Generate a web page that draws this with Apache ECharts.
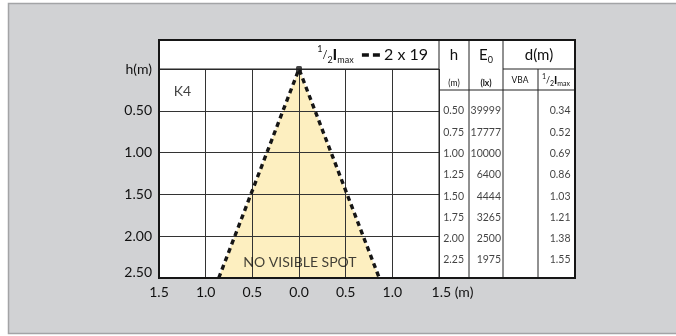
<!DOCTYPE html>
<html>
<head>
<meta charset="utf-8">
<script src="https://cdn.jsdelivr.net/npm/echarts@6/dist/echarts.min.js"></script>
<style>
html,body{margin:0;padding:0;background:#fff;}
#c{width:676px;height:336px;}
</style>
</head>
<body>
<div id="c"></div>
<script>
// ---- data ----
const xTickLabels = ['1.5', '1.0', '0.5', '0.0', '0.5', '1.0', '1.5'];
const xUnit = '(m)';
const yTickLabels = ['h(m)', '0.50', '1.00', '1.50', '2.00', '2.50'];
const coneX = [-0.86, 0, 0.86];
const coneH = [2.5, 0, 2.5];
const tableH = [0.50, 0.75, 1.00, 1.25, 1.50, 1.75, 2.00, 2.25];
const tableE0 = [39999, 17777, 10000, 6400, 4444, 3265, 2500, 1975];
const tableVBA = [];
const tableHalfImax = [0.34, 0.52, 0.69, 0.86, 1.03, 1.21, 1.38, 1.55];
const beamLabel = '2 x 19';
const lampCode = 'K4';
const spotNote = 'NO VISIBLE SPOT';
const annotations = [[-1.25, 0.27, lampCode], [0.01, 2.32, spotNote]];

// ---- chart ----
const FONT = 'Lato, "Open Sans", sans-serif';
const TXT = '#111';
const chart = echarts.init(document.getElementById('c'), null, {renderer: 'canvas'});

const fracRich = (big, small) => ({
  s: {fontSize: small, fontFamily: FONT, color: TXT, verticalAlign: 'top', lineHeight: big + 4},
  f: {fontSize: small + 2, fontFamily: FONT, color: TXT, lineHeight: big + 4},
  b: {fontSize: small, fontFamily: FONT, color: TXT, verticalAlign: 'bottom', lineHeight: big - 2},
  I: {fontSize: big, fontFamily: FONT, fontWeight: 'bold', color: TXT, lineHeight: big + 4},
  t: {fontSize: big, fontFamily: FONT, color: TXT, lineHeight: big + 4},
  d: {width: 7, height: 3.5, backgroundColor: '#111', lineHeight: big + 4},
  g: {width: 4, lineHeight: big + 4}
});

// table column geometry (pixels)
const cols = [
  {left: 439, width: 30, off: 10, data: tableH.map(v => v.toFixed(2))},
  {left: 469, width: 34, off: 15, data: tableE0.map(v => String(v))},
  {left: 503, width: 35, off: 0, data: tableVBA},
  {left: 538, width: 37, off: 14, data: tableHalfImax.map(v => v.toFixed(2))}
];

const grids = [{left: 159, top: 69, width: 280, height: 209, show: true, backgroundColor: '#fff', borderWidth: 0}];
const xAxes = [{
  type: 'value', gridIndex: 0, min: -1.5, max: 1.5, interval: 0.5, z: 5,
  axisLine: {show: true, onZero: false, lineStyle: {color: '#111', width: 2}},
  axisTick: {show: false},
  splitLine: {show: true, lineStyle: {color: '#333', width: 1}},
  axisLabel: {
    margin: 7, fontSize: 14, color: TXT, fontFamily: FONT,
    formatter: v => {
      const i = Math.round((v + 1.5) / 0.5);
      const t = xTickLabels[i];
      return i === xTickLabels.length - 1 ? '{l|' + t + ' ' + xUnit + '}' : t;
    },
    rich: {l: {fontSize: 14, color: TXT, fontFamily: FONT, padding: [0, 0, 0, 27]}}
  }
}];
const yAxes = [{
  type: 'value', gridIndex: 0, inverse: true, min: 0, max: 2.5, interval: 0.5, z: 5,
  axisLine: {show: false}, axisTick: {show: false},
  splitLine: {show: true, lineStyle: {color: '#333', width: 1}},
  axisLabel: {
    margin: 7, fontSize: 14, color: TXT, fontFamily: FONT,
    formatter: v => {
      const i = Math.round(v / 0.5);
      const t = yTickLabels[i];
      return i === yTickLabels.length - 1 ? '{b|' + t + '}' : t;
    },
    rich: {b: {fontSize: 14, color: TXT, fontFamily: FONT, padding: [0, 0, 12, 0]}}
  }
}];

const series = [
  {
    type: 'custom', xAxisIndex: 0, yAxisIndex: 0, z: 1, silent: true,
    data: coneX.map((x, i) => [x, coneH[i]]),
    renderItem: (params, api) => {
      if (params.dataIndex !== 0) return null;
      const pts = coneX.map((x, i) => api.coord([x, coneH[i]]));
      return {type: 'polygon', shape: {points: pts}, style: {fill: '#fdefc0'}};
    }
  },
  {
    type: 'line', xAxisIndex: 0, yAxisIndex: 0, z: 10, symbol: 'none',
    data: coneX.map((x, i) => [x, coneH[i]]),
    lineStyle: {color: '#161616', width: 3.4, type: [5, 4]}
  },
  {
    type: 'scatter', xAxisIndex: 0, yAxisIndex: 0, z: 11, symbol: 'roundRect', symbolSize: 6,
    itemStyle: {color: '#161616'},
    data: [[coneX[1], coneH[1]]]
  },
  {
    type: 'scatter', xAxisIndex: 0, yAxisIndex: 0, z: 12, symbolSize: 0,
    data: annotations.map(a => ({value: [a[0], a[1]], name: a[2]})),
    label: {show: true, position: 'inside', formatter: p => p.name, fontSize: 14, color: TXT, fontFamily: FONT}
  }
];

cols.forEach((c, k) => {
  grids.push({left: c.left, width: c.width, top: 90, height: 188, show: false});
  xAxes.push({type: 'category', gridIndex: k + 1, data: ['c'], show: false});
  yAxes.push({type: 'value', gridIndex: k + 1, inverse: true, min: 0.253, max: 2.461, show: false});
  series.push({
    type: 'scatter', xAxisIndex: k + 1, yAxisIndex: k + 1, symbolSize: 0, z: 12,
    data: c.data.map((v, i) => ({value: ['c', tableH[i]], name: v})),
    label: {show: true, position: 'inside', align: 'right', offset: [c.off, 0],
      formatter: p => p.name, fontSize: 10.5, color: TXT, fontFamily: FONT}
  });
});

const L = (x1, y1, x2, y2, w) => ({type: 'line', z: 50, shape: {x1, y1, x2, y2},
  style: {stroke: '#222', lineWidth: w || 1}});
const T = (x, y, text, rich, align) => ({type: 'text', x, y, z: 60,
  style: {text, rich, align: align || 'center', verticalAlign: 'middle', fill: TXT, font: '14px ' + FONT}});

const graphic = [
  {type: 'rect', z: -20, shape: {x: 8.5, y: 3.5, width: 700, height: 330},
    style: {fill: '#d1d2d4', stroke: '#a3a4a6', lineWidth: 1.5}},
  {type: 'rect', z: -10, shape: {x: 159, y: 40, width: 416, height: 238}, style: {fill: '#fff'}},
  L(159, 69, 439, 69),
  L(439, 40, 439, 278),
  L(469, 40, 469, 278),
  L(503, 40, 503, 278),
  L(538, 69, 538, 278),
  L(503, 69, 575, 69),
  L(439, 90, 575, 90),
  {type: 'rect', z: 55, shape: {x: 159, y: 40, width: 416, height: 238},
    style: {fill: null, stroke: '#161616', lineWidth: 2}},
  T(428, 55, '{s|1}{f|/}{b|2}{I|I}{b|max}{t|  }{d| }{g| }{d| }{t| ' + beamLabel + '}', fracRich(16, 9), 'right'),
  T(454, 55, '{t|h}', fracRich(15, 9)),
  T(486, 55, '{t|E}{b|0}', fracRich(15, 9)),
  T(539, 55, '{t|d(m)}', fracRich(15, 9)),
  T(454, 83, '{t|(m)}', {t: {fontSize: 8.5, fontFamily: FONT, color: TXT}}),
  T(486, 83, '{t|(lx)}', {t: {fontSize: 8.5, fontFamily: FONT, fontWeight: 'bold', color: TXT}}),
  T(520, 80, '{t|VBA}', {t: {fontSize: 8.5, fontFamily: FONT, color: TXT}}),
  T(556, 80, '{s|1}{f|/}{b|2}{I|I}{b|max}', {
    s: {fontSize: 7, fontFamily: FONT, color: TXT, verticalAlign: 'top', lineHeight: 14},
    f: {fontSize: 9, fontFamily: FONT, color: TXT, lineHeight: 14},
    b: {fontSize: 7, fontFamily: FONT, color: TXT, verticalAlign: 'bottom', lineHeight: 11},
    I: {fontSize: 11, fontFamily: FONT, fontWeight: 'bold', color: TXT, lineHeight: 14}
  })
];

chart.setOption({
  animation: false,
  backgroundColor: 'transparent',
  grid: grids, xAxis: xAxes, yAxis: yAxes, series, graphic
});
</script>
</body>
</html>
